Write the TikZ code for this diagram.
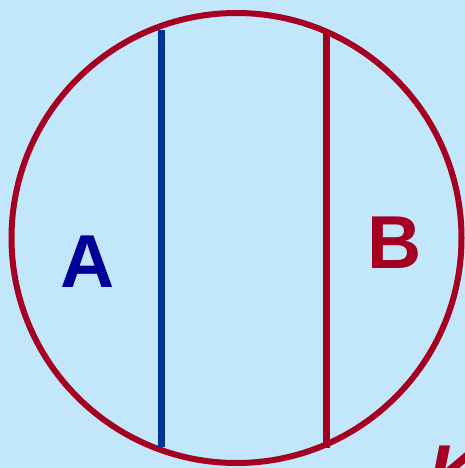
\documentclass[tikz,border=0pt]{standalone}
\usepackage{fontspec}
\setmainfont{Liberation Sans}
\definecolor{bgblue}{HTML}{C2E7FB}
\definecolor{darkred}{HTML}{A50021}
\definecolor{lineblue}{HTML}{003399}
\definecolor{letterblue}{HTML}{000099}
\tikzset{
  label/.style={inner sep=0pt, anchor=base west, font=\fontsize{75}{80}\selectfont\bfseries},
  chord/.style={line width=7pt},
}
\begin{document}
\begin{tikzpicture}[x=1pt,y=-1pt]
\clip (0,0) rectangle (465,468);
\fill[bgblue] (0,0) rectangle (465,468);
\draw[darkred, line width=6pt] (236.5,238) circle[radius=225];
\coordinate (a1) at (161,30);
\coordinate (a2) at (161,447);
\coordinate (b1) at (326,33);
\coordinate (b2) at (326,448);
\draw[chord, lineblue] (a1) -- (a2);
\draw[chord, darkred] (b1) -- (b2);
\node[label, text=letterblue] (A) at (60,287) {A};
\node[label, text=darkred] (B) at (367.5,268) {B};
\node[label, text=darkred, font=\fontsize{75}{80}\selectfont\bfseries\itshape] (K) at (428,497) {K};
\end{tikzpicture}
\end{document}
